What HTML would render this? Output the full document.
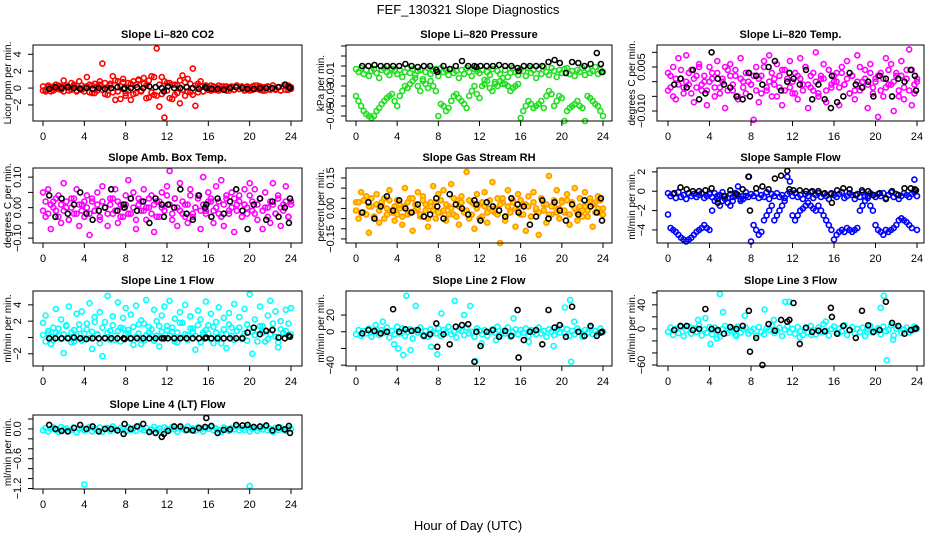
<!DOCTYPE html>
<html><head><meta charset="utf-8"><style>
html,body{margin:0;padding:0;background:#fff}
svg{display:block;font-family:"Liberation Sans",sans-serif}
</style></head><body>
<svg id="c" width="936" height="540" viewBox="0 0 936 540">
<text x="468" y="14" text-anchor="middle" font-size="13">FEF_130321  Slope Diagnostics</text>
<text x="468" y="530" text-anchor="middle" font-size="13">Hour of Day (UTC)</text>
</svg>
<script>
const xTicks=[0,4,8,12,16,20,24];
const blackH=[0.6,1.2,1.8,2.4,3.0,3.6,4.2,4.8,5.4,6.0,6.6,7.2,7.8,7.9,8.5,9.1,9.7,10.3,10.9,11.5,11.7,12.1,12.7,13.3,13.9,14.5,15.1,15.7,15.8,16.3,16.9,17.5,18.1,18.7,19.3,19.8,20.4,21.0,21.6,22.2,22.8,23.4,23.8,23.9];
const co2A=[-.3,-.2,.1,-.4,.2,-.1,.3,-.2,.9,.1,-.3,.6,.2,-.4,.8,-.2,.1,1.3,-.5,.3,-.6,.2,.4,2.9,-.7,.1,.5,1.4,-1.4,.8,-1.3,1.1,-.6,-.3,.5,-.7,.4,.9,-.4,1.2,.3,-1.1,1.4,-.8,4.7,-2.2,1.3,-3.5,.6,-1.2,.4,-.8,.3,-1.8,1.5,-.9,1.1,-.5,2.3,-2.1,.5,.8,-.4,.3,-.2,.3,-.2,.1,-.3,.2,-.1,.2,-.3,.1,-.2,.3,-.1,.2,-.2,.1,-.3,.2,-.1,.3,-.2,.1,-.3,.2,-.1,.3,-.2,.1,-.3,.2,.4,-.2,.1];
const co2B=[.2,-.4,.3,0,-.3,.4,-.1,.2,-.4,.3,.1,-.2,.4,-.3,0,.3,-.4,.2,.4,-.6,.5,-.3,.8,-.2,.6,-.8,.3,-.5,.9,-.4,.2,.7,-.9,.6,-1.4,.8,-.6,1.0,-.3,.5,-1.2,.9,-.5,1.3,-.9,.4,-.7,.8,-.3,.6,-1.3,.4,-.6,.9,-.2,.7,-.4,.5,-.8,.3,-.5,.2,-.4,.3,.1,-.3,.2,-.2,.3,-.1,.2,-.3,.1,.2,-.2,.3,-.1,.1,-.3,.2,.0,-.2,.3,-.1,.2,-.3,.1,.2,-.2,.3,-.1,.1,-.3,.2,-.2,.3,-.1];
const co2K=[-.1,.1,0,.1,0,-.1,0,-.1,0,-.1,0,.1,-.1,0,0,.1,0,.2,.1,0,-.4,.2,0,0,.1,0,-.1,.1,0,-.1,-.1,-.2,0,.1,0,-.1,-.1,0,0,0,.1,.4,.1,0];
const presA=[-3,-6,-2,-8,-4,-10,-5,-3,-7,-12,-4,-2,-6,-9,-3,-5,-8,-4,-11,-6,-2,-7,-3,-9,-5,-4,-13,-6,-2,-8,-5,-3,-10,-2,-6,-4,-9,-3,-7,-5,-12,-4,-8,-2,-6,-10,-3,-5,-7,-4,-14,-6,-9,-3,-16,-5,-8,-18,-4,-11,-7,-2,-6,-9,-3,-5,-10,-2,-7,-4,-12,-3,-8,-1,-6,-9,-2,-5,-11,-4,-7,-3,-2,-8,-5,-10,-4,-6,-2,-9,-3,-7,-5,-1,-8,-4,-6];
const presB=[-30,-35,-40,-45,-48,-50,-52,-50,-45,-42,-38,-35,-32,-30,-28,-35,-40,-30,-25,-20,-22,-18,-15,-12,-20,-25,-15,-18,-22,-15,-20,-25,-50,-38,-40,-45,-42,-35,-30,-28,-32,-35,-38,-42,-30,-25,-20,-28,-32,-20,-18,-15,-22,-25,-18,-20,-15,-12,-18,-20,-25,-22,-20,-18,-52,-45,-40,-35,-38,-42,-40,-38,-35,-42,-30,-25,-28,-40,-35,-30,-32,-55,-45,-42,-40,-38,-35,-40,-42,-55,-30,-32,-35,-38,-40,-45,-50];
const presK=[0,0,1,0,0,0,0,2,0,-1,0,0,-4,-6,0,-3,0,5,0,0,-1,0,0,0,1,0,0,-2,-5,0,0,0,0,4,6,3,-7,4,3,0,2,13,2,-6];
const tempA=[3,-2,5,-6,8,1,-4,9,-1,4,-7,2,6,-3,0,-8,5,3,-5,7,-2,1,-9,4,6,-3,2,-6,8,0,-4,3,-1,-13,5,-7,2,7,-3,9,-5,1,6,-2,-8,4,0,7,-4,3,-6,8,-1,5,-9,2,-3,10,-5,1,6,-7,4,-2,0,3,-8,5,-1,7,-4,2,-6,9,-3,0,4,-9,6,-2,1,-12,3,-5,8,-1,6,-10,2,-3,7,-6,4,11,-8,-4,1];
const tempB=[-3,2,-5,1,-1,4,-2,0,3,-4,1,-2,5,-1,2,-3,0,1,-2,3,-4,0,5,-3,2,-1,4,-5,1,-2,3,0,-1,2,-3,1,-4,5,-2,0,3,-1,-5,2,4,-3,1,-2,0,-4,2,1,-3,5,-1,-2,3,0,-4,2,1,-3,4,-1,2,0,-2,3,-1,1,-4,2,-3,0,5,-2,1,-1,3,-4,0,2,-3,1,-2,4,-1,0,3,-5,2,-2,1,-3,4,-1,0];
const tempK=[-1,1,-2,4,-6,-4,10,1,-1,-2,-5,-6,3,-5,2,-1,5,7,-3,0,3,1,-1,4,-6,-1,-6,-9,2,-7,-5,3,-1,-2,0,-5,2,1,-5,1,0,4,2,-3];
const ambA=[5,-3,6,-7,2,-1,4,-5,8,0,-4,3,-2,6,-6,1,-3,4,-9,2,-1,5,-4,7,0,-6,3,-2,6,-5,1,-3,4,9,-2,5,-7,3,-1,6,-4,0,4,-8,2,-3,5,-1,7,12,-4,3,-6,8,-2,1,-5,6,-3,0,4,-7,10,-1,5,2,-5,7,-2,9,-6,3,-1,5,-8,1,4,-3,6,-2,8,-1,6,-4,3,-7,5,0,-5,8,-2,4,-6,1,7,-3,2];
const ambB=[-1,2,-2,1,0,3,-3,1,-1,2,-4,0,3,-2,1,-1,2,0,-2,3,-1,1,-3,2,0,-2,1,3,-1,2,-3,0,1,-2,3,0,-4,1,2,-1,0,3,-2,1,-3,2,0,-1,4,1,-2,3,0,-1,2,-3,1,4,-2,0,3,-1,1,-2,2,3,-1,0,2,-3,1,4,-2,0,3,-1,2,-3,1,0,4,2,-2,1,3,-1,0,-3,2,1,-2,3,0,-1,2,-3,1];
const ambK=[4,-3,3,-2,1,5,-2,-4,-1,0,6,-1,1,0,3,-1,2,-5,3,1,-3,1,0,6,-2,-4,4,0,1,-3,3,-2,2,6,-1,-7,1,3,-4,2,-3,0,-5,3];
const rhA=[3,-5,8,-2,6,-12,1,-4,7,-7,2,5,-3,9,-1,-6,4,0,-8,10,-3,5,-11,2,8,-4,6,-1,-9,3,11,-5,7,-2,9,-6,1,12,-3,4,-8,6,-1,18,-5,3,-10,7,2,-4,8,-7,0,13,-2,5,-17,3,-6,9,-1,4,-9,7,-3,2,-11,6,-4,8,-1,-13,5,2,-7,16,-3,1,9,-5,4,-2,7,-8,3,10,-6,1,-4,8,-1,5,-9,3,6,-2,0];
const rhB=[-1,3,-2,4,-3,1,5,-4,2,-1,3,-5,0,4,-2,1,-3,2,-4,1,3,-2,5,-1,0,-3,4,2,-5,1,-1,3,-2,4,-1,2,-3,0,5,-4,1,3,-2,-1,4,-3,2,0,-5,3,1,-2,4,-1,0,-3,2,5,-4,1,-2,3,0,-1,4,-3,2,1,-4,3,0,-2,5,-1,2,-3,1,4,-2,0,3,-1,4,-3,2,0,-2,5,-1,1,-4,3,2,-2,0,4,-3];
const rhK=[-2,3,-5,1,6,-1,4,0,-2,2,-4,-3,5,1,-5,7,2,0,-3,4,2,-6,3,1,-1,-4,5,2,-2,1,-8,-4,4,-5,3,-1,-6,2,-3,4,1,-2,5,-6];
const sfA=[-0.2,-0.5,-0.3,-0.7,-0.1,-0.6,-0.4,-0.8,-0.2,-0.5,-0.3,-0.6,-0.4,-0.2,-0.7,-0.5,-0.3,-0.6,-0.2,-0.8,-0.4,-0.1,-0.5,-0.7,-0.3,-0.6,-0.2,-0.4,-0.8,-0.5,-0.1,-0.6,-0.3,-0.5,-0.2,-0.7,-0.4,-0.6,-0.1,-0.8,-0.3,-0.5,-0.2,-0.6,-0.4,-0.7,-0.3,-0.1,-0.5,-0.2,-0.6,-0.4,-0.8,-0.3,-0.5,-0.1,-0.7,-0.4,-0.2,-0.6,-0.3,-0.5,-0.8,-0.2,-0.4,-0.6,-0.3,-0.1,-0.7,-0.5,-0.2,-0.4,-0.8,-0.3,-0.6,-0.1,-0.5,-0.7,-0.2,-0.4,-0.6,-0.3,-0.5,-0.2,-0.7,-0.4,-0.1,-0.6,-0.3,-0.8,-0.5,-0.2,-0.4,-0.6,-0.3,-0.1,-0.5];
const sfB=[-2.4,-3.8,-4,-4.2,-4.5,-4.8,-5,-5.2,-5,-4.8,-4.5,-4.2,-4,-3.8,-3.5,-3.8,-4,-2,-1,-0.5,-1.5,-1,-0.8,-1.2,-1.5,-1,-0.5,0.5,-1,-0.8,-0.5,1.5,-5.2,-3.5,-4,-4.5,-4.2,-3,-2.5,-2,-1.5,-3,-2.5,-2,-1.5,-1,1.5,1,-2.5,-3,-2.5,-2,-1.8,-1.5,-1.2,-1.5,-1.8,-2,-1.5,-2,-2.5,-3,-3.5,-4,-5,-4.5,-4.2,-4,-4.2,-3.8,-4,-4.2,-4,-3.8,-2,-1.5,-1,-0.5,-1.5,-2,-3.5,-4,-4.2,-4.5,-4,-4.2,-4,-3.8,-3.5,-3,-2.8,-3,-3.2,-3.5,-3.8,1.2,-4];
const sfK=[-0.2,0.4,0.2,0,0,0.1,0.3,-1.2,-0.5,0.1,-0.3,0.2,1.5,-2,0.3,0.5,0.2,1.3,1.6,2.1,0.2,0.1,0.1,0,0,0,-0.2,-0.3,-1.2,0.1,0.3,0.2,-0.4,0.1,0,-0.4,-0.2,-0.8,0,-0.4,0.3,0.3,0.2,0.1];
const l1A=[1.8,2.7,0.5,-0.8,1.2,3.5,0.3,2.2,-1.9,1.5,3.8,0.6,-0.5,2.9,1.0,3.2,-0.2,1.7,4.2,-1.4,2.5,0.4,3.1,-2.3,1.9,5.1,0.8,2.6,-0.3,4.3,1.2,2.4,3.6,0.5,2.8,-0.9,3.9,1.6,2.1,-0.4,4.6,1.3,0.2,3.4,2.0,-1.1,2.7,3.8,1.4,4.5,0.7,2.3,-0.6,3.1,1.8,4.0,0.3,2.6,1.1,-1.5,3.3,2.2,0.6,4.4,1.5,2.9,-0.7,1.9,3.7,0.4,2.4,-1.3,3.0,1.2,4.1,0.8,2.5,-0.2,3.5,1.6,5.3,-2.0,2.2,0.9,3.8,1.4,-0.5,2.7,4.5,1.0,3.2,-1.2,2.0,0.6,3.4,1.7,3.6];
const l1B=[0.3,-0.5,0.8,0.1,-0.3,0.6,1.1,-0.2,0.4,1.4,0.0,-0.6,0.9,0.2,1.6,-0.4,0.5,1.0,-0.1,0.7,1.9,0.3,-0.7,1.2,0.0,0.6,-0.3,1.5,0.2,0.8,-0.5,1.1,0.4,0.9,-0.2,1.3,0.1,0.5,-0.8,1.7,0.3,0.6,1.0,-0.4,0.2,1.4,0.7,-0.1,0.9,0.2,1.2,-0.5,0.6,1.8,0.0,0.4,-0.3,1.1,0.7,0.2,1.5,-0.6,0.3,0.9,0.5,-0.2,1.3,0.6,0.1,-0.7,1.0,0.4,1.6,0.2,-0.3,0.8,1.2,0.0,0.5,-0.4,1.1,0.7,0.3,-0.5,1.4,0.6,0.9,-0.2,0.4,1.7,0.1,-0.6,1.0,0.5,0.8,0.2,0.4];
const l1K=[-0.1,-0.1,-0.1,-0.1,0,-0.1,-0.2,-0.1,-0.1,-0.1,-0.1,-0.1,-0.1,-0.2,-0.1,-0.1,-0.1,-0.1,-0.1,-0.1,-0.1,-0.1,-0.1,-0.1,-0.1,-0.1,-0.1,-0.1,0,-0.1,-0.1,-0.1,-0.1,-0.1,-0.1,0.6,1.2,0.4,0.8,0.9,0.0,-0.1,0.2,0.1];
const l2A=[-3,2,-5,1,-2,4,-6,0,3,-4,2,-1,5,-7,1,-3,6,-2,4,-5,0,3,-8,2,-1,5,-4,1,-6,3,0,-2,4,-5,2,-1,6,-3,0,-7,3,1,-4,5,-2,0,-6,4,1,-3,2,-5,0,3,-1,6,-4,1,-2,5,-6,0,3,-3,2,-1,4,-5,2,0,-3,5,-2,1,-6,3,0,-4,2,-1,5,-2,3,-5,1,-3,4,0,-6,2,-1,5,-3,1,-2,4,0];
const l2OutH=[1.9,2.6,3.7,4.1,4.6,4.9,5.3,5.8,7.3,7.9,8.3,9.6,10.5,11.1,11.6,12.2,13.6,15.3,16.8,19.2,20.3,20.8,20.9,21.2];
const l2OutV=[8,12,-15,-20,-28,43,-22,31,-18,-27,22,37,20,31,-35,-14,-10,16,-12,-17,29,38,-36,12];
const l2K=[-2,2,1,-2,0,27,0,3,1,2,-5,-3,10,-18,-3,-15,6,8,9,-36,0,-17,0,2,-6,1,-5,26,-31,-10,0,2,-15,26,5,8,-6,30,0,-5,7,-5,-1,0];
const l3A=[-5,2,-10,0,-7,3,-12,-2,4,-8,1,-5,6,-11,-1,-6,3,-9,2,-4,-13,0,5,-7,-3,1,-10,4,-6,-1,2,-8,-4,0,-11,3,-5,-9,1,-2,6,-7,-3,2,-12,-1,4,-6,0,-8,3,-4,-10,1,-6,5,-2,-9,2,-5,8,-3,-11,0,4,-7,1,-4,6,-10,-2,3,-8,0,-5,2,-12,-1,5,-6,-3,1,-9,4,-4,-2,6,-11,0,3,-7,-1,2,-6,-3,4,0];
const l3OutH=[2.9,3.6,4.1,4.7,5.0,5.3,6.6,7.4,9.3,10.2,11.3,11.7,12.7,13.8,15.2,16.4,19.2,20.5,20.8,21.1,21.7];
const l3OutV=[15,18,-25,-16,58,28,-12,22,32,15,45,45,-14,-10,12,-8,-5,35,55,-52,-18];
const l3K=[-2,5,5,-2,0,33,0,-2,-8,3,0,5,30,-38,-15,-60,8,-3,15,12,15,43,-25,2,-5,-3,-4,35,20,-8,5,-2,-15,30,6,-5,-2,45,10,5,-8,-2,0,1];
const l4A=[-3,2,-5,0,3,-2,-6,4,-1,1,-4,-2,3,-7,0,2,-3,-1,4,-5,1,-2,3,-6,0,2,-4,5,-1,-3,2,0,-5,3,-2,1,-4,6,0,-3,2,-6,-1,4,-2,1,-5,3,0,-2,4,-1,-6,2,0,-3,5,-2,1,-4,3,-1,-5,2,0,4,-3,1,-2,-6,3,0,-4,2,-1,5,-3,1,-2,3,-5,0,2,-4,1,-1,4,-3,0,-6,2,-2,3,-1,-4,1,0];
const l4OutH=[4.0,12.0,20.0];
const l4OutV=[-1.12,-1.28,-1.15];
const l4K=[0.08,0,-0.04,-0.05,0.02,0.08,0,0.05,-0.05,0,0,-0.03,-0.1,0.1,0,0.05,0.1,-0.06,-0.08,-0.16,-0.1,-0.04,0.05,0.05,-0.02,-0.03,0.02,0.04,0.22,0.06,-0.08,-0.02,-0.01,0.08,0.07,0.08,0.04,0.05,0.07,-0.03,0.03,-0.01,0.06,-0.08];

const hoursGrid=[];for(let i=0;i<97;i++)hoursGrid.push(i*0.25);
const NS='http://www.w3.org/2000/svg';
const svg=document.getElementById('c');
function mk(t,a,p){const e=document.createElementNS(NS,t);for(const k in a)e.setAttribute(k,a[k]);(p||svg).appendChild(e);return e;}
const cols=[{l:33,r:302,x0:43,x24:291},{l:346,r:612,x0:356,x24:603},{l:657,r:924,x0:668,x24:917}];
const rows=[{t:45,b:121},{t:168,b:243},{t:291,b:366},{t:415,b:489}];
const panels=[
 {id:'co2',title:'Slope Li\u2013820 CO2',ylab:'Licor ppm per min.',c:0,r:0,yl:[-3.9,5.1],ticks:[-2,0,2,4],labels:['\u22122','0','2','4'],col:'#ff0000',sc:1,series:[[hoursGrid,co2A],[hoursGrid,co2B]],k:co2K},
 {id:'pressure',title:'Slope Li\u2013820 Pressure',ylab:'kPa per min.',c:1,r:0,yl:[-0.055,0.021],ticks:[-0.05,-0.04,-0.03,-0.02,-0.01,0,0.01,0.02],labels:['\u22120.05','','\u22120.03','','\u22120.01','','',''],col:'#22dd22',sc:0.001,series:[[hoursGrid,presA],[hoursGrid,presB]],k:presK},
 {id:'temp',title:'Slope Li\u2013820 Temp.',ylab:'degrees C per min.',c:2,r:0,yl:[-0.0134,0.0125],ticks:[-0.01,-0.005,0,0.005,0.01],labels:['\u22120.010','','','0.005',''],col:'#ff00ff',sc:0.001,series:[[hoursGrid,tempA],[hoursGrid,tempB]],k:tempK},
 {id:'ambbox',title:'Slope Amb. Box Temp.',ylab:'degrees C per min.',c:0,r:1,yl:[-0.116,0.13],ticks:[-0.1,-0.05,0,0.05,0.1],labels:['\u22120.10','','0.00','','0.10'],col:'#ff00ff',sc:0.01,series:[[hoursGrid,ambA],[hoursGrid,ambB]],k:ambK},
 {id:'rh',title:'Slope Gas Stream RH',ylab:'percent per min.',c:1,r:1,yl:[-0.17,0.199],ticks:[-0.15,-0.1,-0.05,0,0.05,0.1,0.15],labels:['\u22120.15','','','0.00','','','0.15'],col:'#ff9900',sc:0.01,series:[[hoursGrid,rhA],[hoursGrid,rhB]],k:rhK,fill:'#ffdd00'},
 {id:'sampleflow',title:'Slope Sample Flow',ylab:'ml/min per min.',c:2,r:1,yl:[-5.35,2.4],ticks:[-4,-2,0,2],labels:['\u22124','\u22122','0','2'],col:'#0000ff',sc:1,series:[[hoursGrid,sfA],[hoursGrid,sfB]],k:sfK},
 {id:'line1',title:'Slope Line 1 Flow',ylab:'ml/min per min.',c:0,r:2,yl:[-3.5,5.7],ticks:[-2,0,2,4],labels:['\u22122','','2','4'],col:'#00ffff',sc:1,series:[[hoursGrid,l1A],[hoursGrid,l1B]],k:l1K},
 {id:'line2',title:'Slope Line 2 Flow',ylab:'ml/min per min.',c:1,r:2,yl:[-41,48.8],ticks:[-40,-20,0,20],labels:['\u221240','','0','20'],col:'#00ffff',sc:1,series:[[hoursGrid,l2A],[l2OutH,l2OutV]],k:l2K},
 {id:'line3',title:'Slope Line 3 Flow',ylab:'ml/min per min.',c:2,r:2,yl:[-61.7,63],ticks:[-60,-40,-20,0,20,40,60],labels:['\u221260','','','0','','40',''],col:'#00ffff',sc:1,series:[[hoursGrid,l3A],[l3OutH,l3OutV]],k:l3K},
 {id:'line4',title:'Slope Line 4 (LT) Flow',ylab:'ml/min per min.',c:0,r:3,yl:[-1.21,0.28],ticks:[-1.2,-1.0,-0.8,-0.6,-0.4,-0.2,0,0.2],labels:['\u22121.2','','','\u22120.6','','','0.0',''],col:'#00ffff',sc:1,series:[[hoursGrid,l4A,0.01],[l4OutH,l4OutV]],k:l4K}
];
panels.forEach(p=>{
 const C=cols[p.c],R=rows[p.r];
 const g=mk('g',{});
 
 
 const xs=h=>C.x0+(C.x24-C.x0)*h/24;
 const ys=v=>R.b-(R.b-R.t)*(v-p.yl[0])/(p.yl[1]-p.yl[0]);
 const t=mk('text',{x:(C.l+C.r)/2,y:R.t-7,'text-anchor':'middle','font-size':'11','font-weight':'bold'},g);
 t.textContent=p.title;
 
 
 const pts=mk('g',{fill:p.fill||'none',stroke:p.col,'stroke-width':'1.6'},g);
 
 
 p.series.forEach(s=>{const hs=s[0],vs=s[1],m=s[2]!==undefined?s[2]:p.sc;
  const n=Math.min(hs.length,vs.length);
  for(let i=0;i<n;i++){const y=ys(vs[i]*m);if(y<R.t-1||y>R.b+1)continue;
   const c=mk('circle',{cx:xs(hs[i]).toFixed(1),cy:y.toFixed(1),r:'2.5'},pts);
   
   }
 });
 const kp=mk('g',{fill:'none',stroke:'#000','stroke-width':'1.6'},g);
 
 
 const n=Math.min(blackH.length,p.k.length);
 const km=(p.id==='co2'||p.id==='sampleflow'||p.id.startsWith('line'))?1:p.sc;
 for(let i=0;i<n;i++){const y=ys(p.k[i]*km);if(y<R.t-1||y>R.b+1)continue;
  const c=mk('circle',{cx:xs(blackH[i]).toFixed(1),cy:y.toFixed(1),r:'2.5'},kp);
  
  }
 const box=mk('rect',{x:C.l,y:R.t,width:C.r-C.l,height:R.b-R.t,fill:'none',stroke:'#000','stroke-width':'1'},g);
 
 
 xTicks.forEach(h=>{const x=xs(h);
  mk('line',{x1:x,x2:x,y1:R.b,y2:R.b+5,stroke:'#000'},g);
  const tl=mk('text',{x:x,y:R.b+19,'text-anchor':'middle','font-size':'11'},g);
  tl.textContent=h;
  
  });
 p.ticks.forEach((v,i)=>{const y=ys(v);
  mk('line',{x1:C.l-5,x2:C.l,y1:y,y2:y,stroke:'#000'},g);
  if(p.labels[i]){const tl=mk('text',{x:0,y:0,'text-anchor':'middle','font-size':'11',transform:`translate(${C.l-12},${y}) rotate(-90)`},g);
   tl.textContent=p.labels[i];
   
   }});
 const yl=mk('text',{x:0,y:0,'text-anchor':'middle','font-size':'10',transform:`translate(${C.l-22},${(R.t+R.b)/2}) rotate(-90)`},g);
 yl.textContent=p.ylab;
 
 
});
</script>
</body></html>
